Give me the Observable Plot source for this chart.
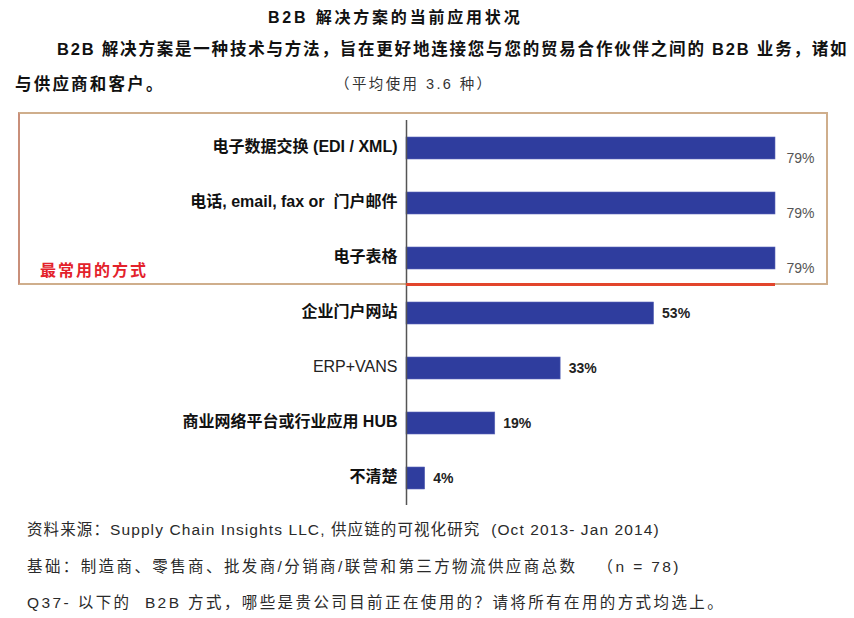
<!DOCTYPE html>
<html><head><meta charset="utf-8">
<script src="https://cdn.jsdelivr.net/npm/d3@7"></script>
<script src="https://cdn.jsdelivr.net/npm/@observablehq/plot@0.6"></script>
<style>
body{margin:0;background:#fff;font-family:"Liberation Sans",Arial,"Noto Sans CJK SC",sans-serif;}
#wrap{position:relative;width:854px;height:618px;overflow:hidden;background:#fff;}
.abs{position:absolute;white-space:nowrap;}
.t1{left:268px;top:4px;font-size:16px;font-weight:bold;color:#111;letter-spacing:2.8px;}
.t2{left:57px;top:36px;font-size:16.5px;font-weight:bold;color:#111;letter-spacing:1.8px;}
.t3{left:15px;top:71px;font-size:16.5px;font-weight:bold;color:#111;letter-spacing:2.2px;}
.t3b{left:335px;top:72px;font-size:14.5px;color:#333;letter-spacing:2.4px;}
.f{left:27px;font-size:15.5px;color:#2a2a2a;}
#box{position:absolute;left:18px;top:112px;width:806px;height:169px;border:2px solid #cfae8c;border-left-color:#c98f7a;box-sizing:content-box;}
#red{position:absolute;left:40px;top:257px;font-size:16px;font-weight:bold;color:#e3222b;letter-spacing:2px;}
#plot{position:absolute;left:0;top:110px;}
</style></head>
<body>
<div id="wrap">
  <div class="abs t1">B2B 解决方案的当前应用状况</div>
  <div class="abs t2">B2B 解决方案是一种技术与方法，旨在更好地连接您与您的贸易合作伙伴之间的 B2B 业务，诸如</div>
  <div class="abs t3">与供应商和客户。</div>
  <div class="abs t3b">（平均使用 3.6 种）</div>
  <div id="box"></div>
  <div id="red">最常用的方式</div>
  <div id="plot"></div>
  <div class="abs f" style="top:517px;letter-spacing:1.1px">资料来源：Supply Chain Insights LLC, 供应链的可视化研究 &nbsp;(Oct 2013- Jan 2014)</div>
  <div class="abs f" style="top:554px;letter-spacing:2.4px">基础：制造商、零售商、批发商/分销商/联营和第三方物流供应商总数 &nbsp; （n = 78)</div>
  <div class="abs f" style="top:590px;letter-spacing:2.4px">Q37- 以下的 &nbsp;B2B 方式，哪些是贵公司目前正在使用的？请将所有在用的方式均选上。</div>
</div>
<script>
const categories = [
  "电子数据交换 (EDI / XML)",
  "电话, email, fax or  门户邮件",
  "电子表格",
  "企业门户网站",
  "ERP+VANS",
  "商业网络平台或行业应用 HUB",
  "不清楚"
];
const values = [79, 79, 79, 53, 33, 19, 4];
const topCount = 3;
const plainLabels = ["ERP+VANS"];

const data = categories.map((c, i) => ({category: c, value: values[i], top: i < topCount, plain: plainLabels.includes(c)}));

const chart = Plot.plot({
  width: 854,
  height: 400,
  marginLeft: 406,
  marginRight: 79,
  marginTop: 10,
  marginBottom: 5,
  x: {domain: [0, d3.max(values)], axis: null},
  y: {domain: categories, axis: null, paddingInner: 0.6, paddingOuter: 0.284},
  style: {fontFamily: '"Liberation Sans", Arial, "Noto Sans CJK SC", sans-serif', background: "transparent"},
  marks: [
    Plot.barX(data, {x: "value", y: "category", fill: "#2f3d9e", stroke: "#5a66b8", strokeWidth: 0.6}),
    Plot.ruleX([0], {stroke: "#555", strokeWidth: 1.5}),
    Plot.ruleY([categories[topCount - 1]], {x1: 0, x2: values[topCount - 1], dy: 26, stroke: "#e2452c", strokeWidth: 3}),
    Plot.text(data.filter(d => !d.plain), {x: 0, y: "category", text: "category", textAnchor: "end", dx: -9, dy: -2,
      fontSize: 16, fill: "#111", fontWeight: "bold"}),
    Plot.text(data.filter(d => d.plain), {x: 0, y: "category", text: "category", textAnchor: "end", dx: -9, dy: -2,
      fontSize: 16, fill: "#222"}),
    Plot.text(data.filter(d => d.top), {x: "value", y: "category", text: d => d.value + "%", textAnchor: "start", dx: 11, dy: 10,
      fontSize: 14, fill: "#555"}),
    Plot.text(data.filter(d => !d.top), {x: "value", y: "category", text: d => d.value + "%", textAnchor: "start", dx: 8,
      fontSize: 14, fontWeight: "bold", fill: "#222"})
  ]
});
document.getElementById("plot").appendChild(chart);
</script>
</body></html>
